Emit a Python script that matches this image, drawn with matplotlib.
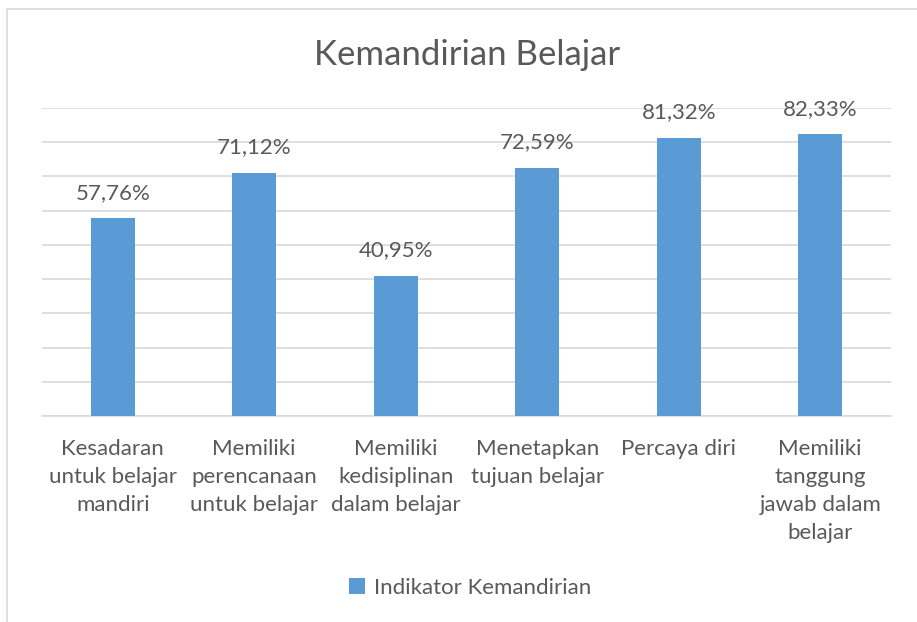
import matplotlib.pyplot as plt
from matplotlib.patches import Rectangle

# data
categories = [
    "Kesadaran\nuntuk belajar\nmandiri",
    "Memiliki\nperencanaan\nuntuk belajar",
    "Memiliki\nkedisiplinan\ndalam belajar",
    "Menetapkan\ntujuan belajar",
    "Percaya diri",
    "Memiliki\ntanggung\njawab dalam\nbelajar",
]
values = [57.76, 71.12, 40.95, 72.59, 81.32, 82.33]
series_name = "Indikator Kemandirian"
title = "Kemandirian Belajar"

bar_color = "#5B9BD5"
text_color = "#595959"

plt.rcParams['font.family'] = ['Lato', 'DejaVu Sans']

W, H = 917, 622
fig = plt.figure(figsize=(W / 100, H / 100), dpi=100)

# chart area border
fig.patches.append(Rectangle((7 / W, -0.1), 1.2, 1 - 9 / H + 0.1, transform=fig.transFigure,
                             fill=False, edgecolor="#d9d9d9", linewidth=1.2))

ax = fig.add_axes([42 / W, 1 - 416 / H, (891 - 42) / W, (416 - 108) / H])
x = range(len(categories))
bars = ax.bar(x, values, width=0.31, color=bar_color, zorder=3, label=series_name)

ax.set_ylim(0, 90)
ax.set_xlim(-0.5, len(categories) - 0.5)
ax.set_yticks(range(0, 91, 10))
ax.yaxis.grid(True, color="#d9d9d9", linewidth=1.2, zorder=0)
ax.tick_params(axis='y', left=False, labelleft=False)
ax.tick_params(axis='x', bottom=False, labelsize=16, labelcolor=text_color, pad=13)
ax.set_xticks(list(x))
ax.set_xticklabels(categories, linespacing=1.5)
for s in ["top", "right", "left"]:
    ax.spines[s].set_visible(False)
ax.spines["bottom"].set_color("#d9d9d9")
ax.spines["bottom"].set_linewidth(1.2)

for b, v in zip(bars, values):
    ax.annotate(f"{v:.2f}%".replace(".", ","), (b.get_x() + b.get_width() / 2, v),
                xytext=(0, 11), textcoords="offset points", ha="center", va="bottom",
                fontsize=16, color=text_color)

fig.text(467 / W, 1 - 55 / H, title, ha="center", va="center", fontsize=25, color=text_color)

fig.legend(handles=[bars], labels=[series_name], loc="center", bbox_to_anchor=(470 / W, 1 - 588 / H),
           frameon=False, fontsize=16, labelcolor=text_color, handlelength=0.7, handleheight=0.7,
           handletextpad=0.4)

fig.savefig("out.png", dpi=100)
